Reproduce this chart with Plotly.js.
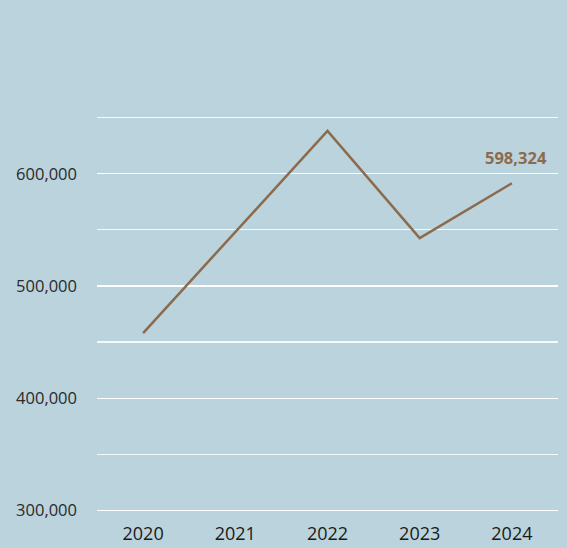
<!DOCTYPE html>
<html>
<head>
<meta charset="utf-8">
<script src="https://cdn.plot.ly/plotly-3.0.1.min.js"></script>
<style>html,body{margin:0;padding:0;background:#bad3dc;}#chart{width:567px;height:548px;}</style>
</head>
<body>
<div id="chart"></div>
<script>
const years = [2020, 2021, 2022, 2023, 2024];
const values = [458000, 548000, 638100, 542600, 591500];
const lastLabel = "598,324";
const yTickVals = [300000, 400000, 500000, 600000];
const yTickText = ["300,000", "400,000", "500,000", "600,000"];

const trace = {
  x: years, y: values, type: 'scatter', mode: 'lines',
  line: {color: '#8c6b4d', width: 2.5},
  hoverinfo: 'skip'
};
const layout = {
  width: 567, height: 548,
  paper_bgcolor: '#bad3dc', plot_bgcolor: '#bad3dc',
  margin: {l: 97, r: 9, t: 112, b: 32},
  showlegend: false,
  font: {family: 'Open Sans, sans-serif', color: '#222'},
  xaxis: {
    range: [2019.5, 2024.5], tickvals: years, ticktext: years.map(String),
    showgrid: false, zeroline: false, showline: false, ticks: '',
    tickfont: {size: 18, color: '#1a1a1a'}, ticklabelstandoff: 5
  },
  yaxis: {
    range: [295000, 655000], tickvals: yTickVals, ticktext: yTickText,
    showgrid: true, gridcolor: 'rgba(255,255,255,0.85)', gridwidth: 1.2,
    minor: {dtick: 50000, tick0: 0, showgrid: true, gridcolor: 'rgba(255,255,255,0.85)', gridwidth: 1.2},
    zeroline: false, showline: false, ticks: '',
    tickfont: {size: 16.5, color: '#2a2a2a'}, ticklabelstandoff: 19
  },
  annotations: [{
    x: years[years.length - 1], y: values[values.length - 1], text: '<b>' + lastLabel + '</b>',
    showarrow: false, xshift: 4, yshift: 26,
    font: {size: 16.5, color: '#8c6b4d', family: 'Open Sans, sans-serif'}
  }]
};
Plotly.newPlot('chart', [trace], layout, {staticPlot: true, displayModeBar: false});
</script>
</body>
</html>
